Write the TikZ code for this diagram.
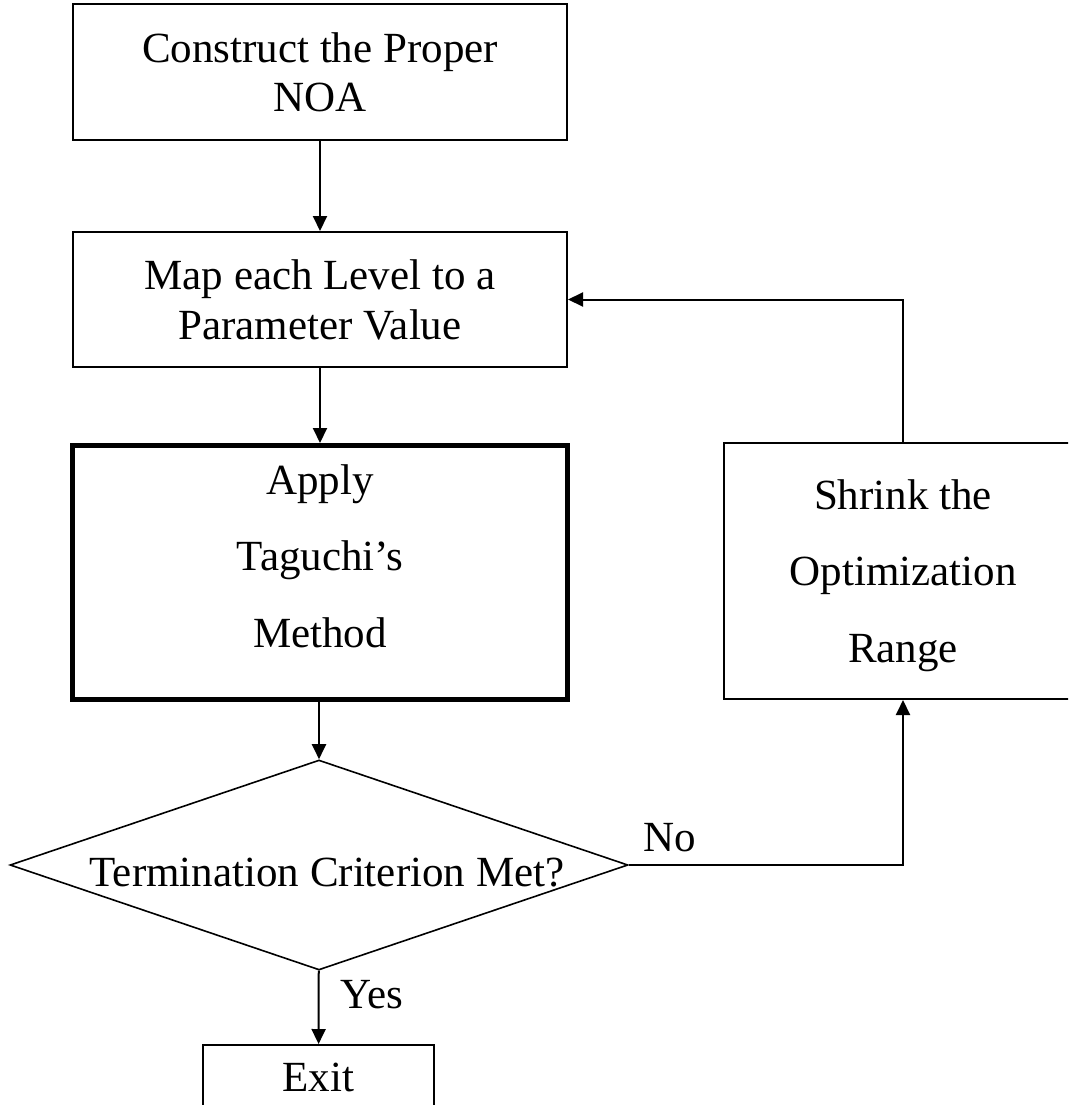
\documentclass[tikz,border=0pt]{standalone}
\usepackage{fontspec}
\setmainfont{Liberation Serif}
\usetikzlibrary{arrows.meta,shapes.geometric}
\begin{document}
\begin{tikzpicture}[x=1pt,y=-1pt,
  box/.style={draw,line width=2pt,minimum width=494pt,minimum height=136pt,inner sep=0pt,align=center,font=\fontsize{43}{49}\selectfont},
  arr/.style={line width=2pt,-{Triangle[length=15pt,width=14pt]}},
  lbl/.style={font=\fontsize{43}{49}\selectfont,inner sep=0pt}]
\clip (0,0) rectangle (1068,1105);
\fill[white] (0,0) rectangle (1068,1105);
\node[box] (a) at (320,72) {Construct the Proper\\NOA};
\node[box,minimum height=135pt,font=\fontsize{43}{50}\selectfont] (b) at (320,299.5) {Map each Level to a\\Parameter Value};
\node[box,line width=5pt,minimum width=495pt,minimum height=254pt,text depth=33pt,font=\fontsize{43}{76.5}\selectfont] (c) at (320,572.5) {Apply\\Taguchi’s\\Method};
\node[draw,diamond,line width=1.6pt,minimum width=618pt,minimum height=210pt,inner sep=0pt] (d) at (319,865) {};
\node[lbl] (dt) at (327,873) {Termination Criterion Met?};
\node[box,minimum width=231pt,minimum height=64pt] (e) at (318.5,1077) {Exit};
\node[box,minimum width=358pt,minimum height=256pt,text depth=0pt,font=\fontsize{43}{76.5}\selectfont] (f) at (903,571) {Shrink the\\Optimization\\Range};
\draw[arr] (a) -- (a |- b.north);
\draw[arr] (b) -- (b |- c.north);
\draw[arr] (c.south -| d.north) -- (d.north);
\draw[arr] (d) -- (e);
\draw[arr] (d.east) -| (f.south);
\draw[arr] (f.north) |- (b.east);
\node[lbl] (no) at (670,838) {No};
\node[lbl] (yes) at (372,995) {Yes};
\end{tikzpicture}
\end{document}
